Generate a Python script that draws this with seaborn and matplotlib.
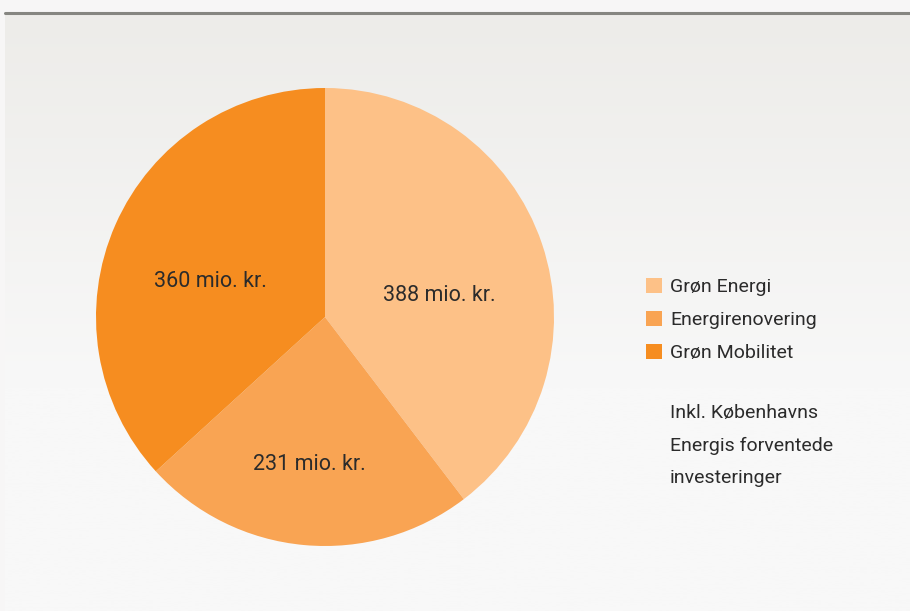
import numpy as np
import matplotlib
matplotlib.use("Agg")
import matplotlib.pyplot as plt
import matplotlib.patches as mpatches
import seaborn as sns

# data
categories = ["Grøn Energi", "Energirenovering", "Grøn Mobilitet"]
values = [388, 231, 360]
value_labels = ["388 mio. kr.", "231 mio. kr.", "360 mio. kr."]
note_lines = ["Inkl. Københavns", "Energis forventede", "investeringer"]

# style
colors = sns.color_palette(["#FDC187", "#F9A453", "#F68D20"])
label_pos = [(0.50, 0.095), (-0.07, -0.645), (-0.50, 0.157)]
txt_col = "#2b2b2b"

sns.set_style("white")
plt.rcParams["font.family"] = ["Roboto", "DejaVu Sans"]

fig = plt.figure(figsize=(9.1, 6.11), dpi=100)
fig.patch.set_facecolor("#F7F6F6")

# background panel with vertical gradient
bg = fig.add_axes([5 / 910, 0, 905 / 910, 598.5 / 611])
grad = np.linspace(0, 1, 256)
top = np.array([0xED, 0xEC, 0xE9]) / 255
bot = np.array([0xF8, 0xF8, 0xF8]) / 255
img = top + (bot - top) * np.clip(grad * 1.6, 0, 1)[:, None]
bg.imshow(img[:, None, :], aspect="auto", extent=[0, 1, 0, 1], origin="upper")
bg.axhline(1, color="#868681", lw=2.2, clip_on=False)
bg.set_xlim(0, 1)
bg.set_ylim(0, 1)
bg.axis("off")

# pie
ax = fig.add_axes([96 / 910, 65 / 611, 458 / 910, 458 / 611])
wedges, _ = ax.pie(values, colors=colors, startangle=90, counterclock=False,
                   radius=1, wedgeprops=dict(linewidth=0))
for (x, y), lab in zip(label_pos, value_labels):
    ax.text(x, y, lab, ha="center", va="center", fontsize=15.5, color=txt_col)
ax.set_xlim(-1, 1)
ax.set_ylim(-1, 1)
ax.axis("off")

# legend
handles = [mpatches.Patch(facecolor=c, edgecolor="none", label=l) for c, l in zip(colors, categories)]
leg = fig.legend(handles=handles, loc="upper left", bbox_to_anchor=(646 / 910, 1 - 278 / 611),
                 frameon=False, fontsize=14, handlelength=0.82, handleheight=0.82,
                 handletextpad=0.42, labelspacing=0.76, borderpad=0, borderaxespad=0)
for t in leg.get_texts():
    t.set_color(txt_col)

for i, line in enumerate(note_lines):
    fig.text(670 / 910, 1 - (413 + 32.5 * i) / 611, line, fontsize=14, color=txt_col,
             ha="left", va="center")

fig.savefig("out.png", dpi=100, facecolor=fig.get_facecolor())
